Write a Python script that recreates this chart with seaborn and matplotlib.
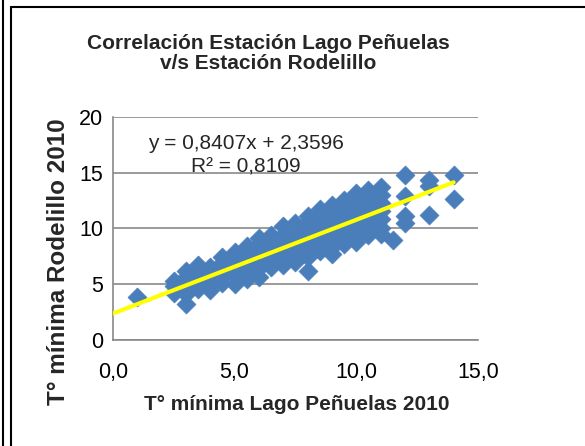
import matplotlib
matplotlib.use("Agg")
import matplotlib.pyplot as plt
import seaborn as sns
import pandas as pd
from matplotlib.lines import Line2D

# --- DATOS ---
# T° mínima Lago Peñuelas 2010 (eje x) y T° mínima Rodelillo 2010 (eje y)
lago_2010 = [
    1.0,
    2.5, 2.5, 2.5,
    3.0, 3.0, 3.0, 3.0, 3.0,
    3.5, 3.5, 3.5, 3.5, 3.5,
    4.0, 4.0, 4.0, 4.0,
    4.5, 4.5, 4.5, 4.5, 4.5,
    5.0, 5.0, 5.0, 5.0, 5.0,
    5.5, 5.5, 5.5, 5.5, 5.5,
    6.0, 6.0, 6.0, 6.0, 6.0, 6.0,
    6.5, 6.5, 6.5, 6.5, 6.5,
    7.0, 7.0, 7.0, 7.0, 7.0, 7.0,
    7.5, 7.5, 7.5, 7.5, 7.5, 7.5,
    8.0, 8.0, 8.0, 8.0, 8.0, 8.0, 8.0, 8.0,
    8.5, 8.5, 8.5, 8.5, 8.5, 8.5, 8.5,
    9.0, 9.0, 9.0, 9.0, 9.0, 9.0, 9.0, 9.0,
    9.5, 9.5, 9.5, 9.5, 9.5, 9.5, 9.5,
    10.0, 10.0, 10.0, 10.0, 10.0, 10.0, 10.0, 10.0,
    10.5, 10.5, 10.5, 10.5, 10.5, 10.5, 10.5,
    11.0, 11.0, 11.0, 11.0, 11.0, 11.0, 11.0,
    11.5,
    12.0, 12.0, 12.0, 12.0,
    13.0, 13.0, 13.0,
    14.0, 14.0,
]
rodelillo_2010 = [
    3.8,
    4.2, 4.8, 5.3,
    3.2, 4.1, 5.0, 5.6, 6.2,
    4.6, 5.2, 5.8, 6.3, 6.7,
    4.5, 5.2, 5.8, 6.5,
    5.1, 5.6, 6.3, 6.9, 7.4,
    5.0, 5.8, 6.5, 7.2, 7.9,
    5.5, 6.3, 7.0, 7.7, 8.4,
    5.6, 6.4, 7.2, 8.0, 8.6, 9.1,
    6.5, 7.2, 7.9, 8.6, 9.4,
    6.7, 7.3, 8.0, 8.7, 9.4, 10.2,
    7.0, 7.6, 8.3, 9.0, 9.6, 10.5,
    6.2, 7.4, 8.0, 8.6, 9.3, 10.0, 10.6, 11.1,
    8.0, 8.6, 9.2, 9.8, 10.5, 11.1, 11.7,
    7.7, 8.3, 9.0, 9.7, 10.4, 11.0, 11.6, 12.1,
    8.6, 9.3, 9.9, 10.6, 11.3, 11.9, 12.5,
    8.8, 9.4, 10.1, 10.8, 11.5, 12.1, 12.8, 13.2,
    9.4, 9.9, 10.6, 11.3, 12.0, 12.7, 13.4,
    9.5, 10.0, 10.8, 11.6, 12.3, 13.0, 13.7,
    9.0,
    10.5, 11.1, 12.9, 14.8,
    11.2, 13.8, 14.3,
    12.6, 14.8,
]

# Línea de tendencia (Excel): y = 0,8407x + 2,3596 ; R² = 0,8109
pendiente = 0.8407
intercepto = 2.3596
r2 = 0.8109
tendencia_x = [0.0, 14.0]

xticks = [0, 5, 10, 15]
yticks = [0, 5, 10, 15, 20]

titulo = "Correlación Estación Lago Peñuelas\nv/s Estación Rodelillo"
etiqueta_x = "T° mínima Lago Peñuelas 2010"
etiqueta_y = "T° mínima Rodelillo 2010"

# --- GRÁFICO ---
sns.set_style("white")
plt.rcParams["font.family"] = ["Liberation Sans", "DejaVu Sans"]

df = pd.DataFrame({"lago": lago_2010, "rodelillo": rodelillo_2010})
df_tend = pd.DataFrame({"x": tendencia_x,
                        "y": [pendiente * v + intercepto for v in tendencia_x]})

fig = plt.figure(figsize=(5.85, 4.46), dpi=100)
ax = fig.add_axes([0.193, 0.238, 0.624, 0.500])

gris = "#898989"
azul = "#4A7EBB"

sns.scatterplot(data=df, x="lago", y="rodelillo", marker="D", s=95,
                color=azul, edgecolor=azul, linewidth=0.4, ax=ax, zorder=3)
sns.lineplot(data=df_tend, x="x", y="y", color="#FFFF00", linewidth=3.0,
             ax=ax, zorder=4)

ax.set_xlim(0, 15)
ax.set_ylim(0, 20)
ax.set_xticks(xticks)
ax.set_yticks(yticks)
ax.set_xticklabels([f"{v:.1f}".replace(".", ",") for v in xticks])
ax.set_yticklabels([str(v) for v in yticks])
ax.tick_params(axis="both", labelsize=15.5, colors=gris, labelcolor="black",
               length=4, width=1.2, direction="out")
ax.tick_params(axis="x", pad=12)
ax.tick_params(axis="y", pad=3)
ax.yaxis.grid(True, color=gris, linewidth=1.2)
ax.xaxis.grid(False)
for lado in ["top", "right"]:
    ax.spines[lado].set_visible(False)
for lado in ["left", "bottom"]:
    ax.spines[lado].set_color(gris)
    ax.spines[lado].set_linewidth(1.2)
ax.set_xlabel("")
ax.set_ylabel("")

ax.text(5.47, 16.55, f"y = {pendiente:.4f}x + {intercepto:.4f}\nR² = {r2:.4f}".replace(".", ","),
        ha="center", va="center", multialignment="center", fontsize=15,
        linespacing=1.25, zorder=5)

fig.text(0.459, 0.880, titulo, ha="center", va="center", fontsize=15,
         fontweight="bold", linespacing=1.1)
fig.text(0.508, 0.092, etiqueta_x, ha="center", va="center", fontsize=15,
         fontweight="bold")
fig.text(0.100, 0.414, etiqueta_y, ha="center", va="center", fontsize=17.5,
         fontweight="bold", rotation=90)

# marco (doble línea izquierda y línea superior)
fig.add_artist(Line2D([3 / 585, 3 / 585], [0, 1], color="black", linewidth=1.5))
fig.add_artist(Line2D([11 / 585, 11 / 585], [0, 1 - 7 / 446], color="black", linewidth=1.5))
fig.add_artist(Line2D([11 / 585, 1], [1 - 7 / 446, 1 - 7 / 446], color="black", linewidth=1.5))

fig.savefig("out.png", dpi=100)
plt.close(fig)
